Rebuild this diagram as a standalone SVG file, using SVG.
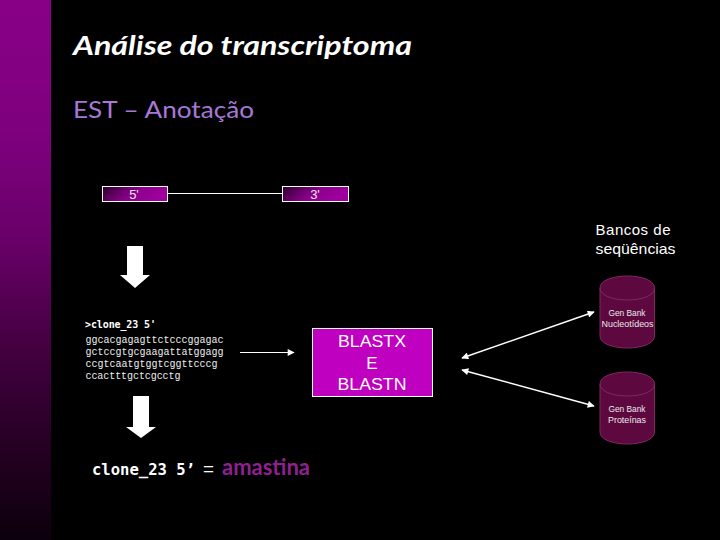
<svg xmlns="http://www.w3.org/2000/svg" width="720" height="540" viewBox="0 0 720 540">
<style>
text{font-family:"Liberation Sans",Arial,sans-serif;fill:#fff}
.geo{font-family:Lato,"Liberation Sans",sans-serif}
.mono{font-family:"Liberation Mono","DejaVu Sans Mono",monospace;font-size:10px;fill:#eee}
.monob{font-family:"DejaVu Sans Mono","Liberation Mono",monospace;font-weight:bold;fill:#fff}
.db{fill:#5e0840;stroke:#7c2a5e;stroke-width:1}
.lip{fill:none;stroke:#7c2a5e;stroke-width:1}
.wire{stroke:#fff;fill:none}
.small{font-size:9px;text-anchor:middle;fill:#e8e8e8}
</style>
<defs>
<linearGradient id="bar" x1="0" y1="0" x2="0" y2="1"><stop offset="0" stop-color="#880086"/><stop offset="0.25" stop-color="#7e007e"/><stop offset="0.45" stop-color="#680068"/><stop offset="0.65" stop-color="#42003f"/><stop offset="0.85" stop-color="#220020"/><stop offset="1" stop-color="#0c000c"/></linearGradient>
<linearGradient id="tag" x1="0" y1="0" x2="1" y2="0.3"><stop offset="0" stop-color="#2c002c"/><stop offset="0.55" stop-color="#8a008a"/><stop offset="1" stop-color="#a000a0"/></linearGradient>
<marker id="head" viewBox="0 0 10 10" refX="9" refY="5" markerUnits="userSpaceOnUse" markerWidth="8" markerHeight="7" orient="auto-start-reverse"><path d="M0 0L10 5L0 10Z" fill="#fff"/></marker>
</defs>
<rect width="720" height="540" fill="#000"/>
<rect id="sidebar" width="51" height="540" fill="url(#bar)"/>
<text class="geo" x="73" y="55" font-size="26" font-weight="bold" font-style="italic" textLength="339" lengthAdjust="spacingAndGlyphs">Análise do transcriptoma</text>
<text class="geo" x="73" y="118" font-size="24" style="fill:#a878d8" textLength="181" lengthAdjust="spacingAndGlyphs">EST – Anotação</text>
<g id="connectors">
<line class="wire" x1="168" y1="193.500" x2="282" y2="193.500" stroke-width="1"/>
<line class="wire" x1="240" y1="352.500" x2="294" y2="352.500" marker-end="url(#head)"/>
<line class="wire" x1="462" y1="358" x2="594" y2="312" stroke-width="1.500" marker-start="url(#head)" marker-end="url(#head)"/>
<line class="wire" x1="462" y1="370" x2="594" y2="406" stroke-width="1.500" marker-start="url(#head)" marker-end="url(#head)"/>
<path id="arrow1" d="M127 246H143V275H150L135 288L120 275H127Z" fill="#fff"/>
<path id="arrow2" d="M133 396H149V427H156L141 438L126 427H133Z" fill="#fff"/>
</g>
<g id="n5">
<rect x="102.500" y="186.500" width="65" height="15" fill="url(#tag)" stroke="#fff"/>
<text x="134" y="199" font-size="13" text-anchor="middle" style="fill:#e8e8e8">5'</text>
</g>
<g id="n3">
<rect x="282.500" y="186.500" width="66" height="15" fill="url(#tag)" stroke="#fff"/>
<text x="315" y="199" font-size="13" text-anchor="middle" style="fill:#e8e8e8">3'</text>
</g>
<g id="bancos">
<text x="595.500" y="235" font-size="15" textLength="75" lengthAdjust="spacing">Bancos de</text>
<text x="595.500" y="254" font-size="15" textLength="80" lengthAdjust="spacingAndGlyphs">seqüências</text>
</g>
<g id="seq">
<text class="monob" x="85" y="328" font-size="10" textLength="71">&gt;clone_23 5'</text>
<text class="mono" x="85.500" y="343" textLength="138">ggcacgagagttctcccggagac</text>
<text class="mono" x="85.500" y="355" textLength="138">gctccgtgcgaagattatggagg</text>
<text class="mono" x="85.500" y="367" textLength="132">ccgtcaatgtggtcggttcccg</text>
<text class="mono" x="85.500" y="379" textLength="95">ccactttgctcgcctg</text>
</g>
<g id="blast">
<rect x="312.500" y="328.500" width="120" height="68" fill="#c000c0" stroke="#fff"/>
<text x="372" y="347" font-size="17" text-anchor="middle" textLength="68" lengthAdjust="spacingAndGlyphs">BLASTX</text>
<text x="372" y="369" font-size="17" text-anchor="middle">E</text>
<text x="372" y="390" font-size="17" text-anchor="middle" textLength="69" lengthAdjust="spacingAndGlyphs">BLASTN</text>
</g>
<g id="db1">
<path class="db" d="M600 288C600 272 654.500 272 654.500 288V336C654.500 352 600 352 600 336Z"/>
<path class="lip" d="M600 288C600 304 654.500 304 654.500 288"/>
<text class="small" x="627" y="316" textLength="37" lengthAdjust="spacingAndGlyphs">Gen Bank</text>
<text class="small" x="627.500" y="327" textLength="52" lengthAdjust="spacingAndGlyphs">Nucleotídeos</text>
</g>
<g id="db2">
<path class="db" d="M600 384C600 368 654.500 368 654.500 384V432C654.500 448 600 448 600 432Z"/>
<path class="lip" d="M600 384C600 400 654.500 400 654.500 384"/>
<text class="small" x="627" y="412" textLength="37" lengthAdjust="spacingAndGlyphs">Gen Bank</text>
<text class="small" x="627" y="423" textLength="38" lengthAdjust="spacingAndGlyphs">Proteínas</text>
</g>
<g id="result">
<text class="monob" x="92" y="475" font-size="16" textLength="103" lengthAdjust="spacingAndGlyphs">clone_23 5’</text>
<text x="203" y="475" font-size="19" textLength="11" lengthAdjust="spacingAndGlyphs">=</text>
<text class="geo" x="222" y="475" font-size="23" font-weight="bold" style="fill:#902090" textLength="88" lengthAdjust="spacingAndGlyphs">amastina</text>
</g>
</svg>
